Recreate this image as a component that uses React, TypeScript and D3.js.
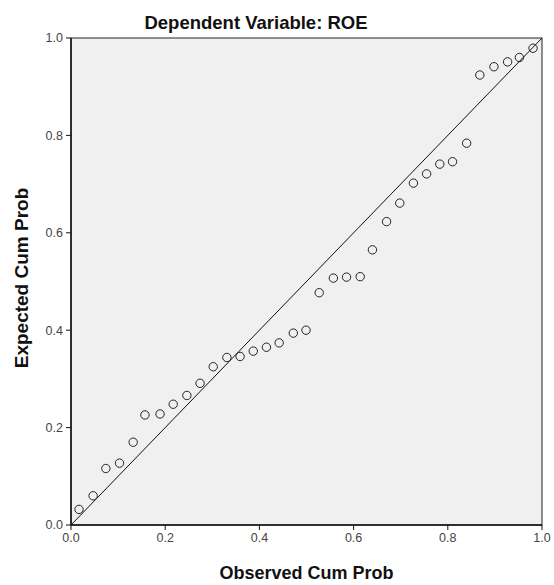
import React from "react";
import * as d3 from "d3";

const observed = [0.017, 0.047, 0.074, 0.103, 0.132, 0.157, 0.189, 0.217, 0.246, 0.274, 0.302, 0.331, 0.359, 0.387, 0.415, 0.442, 0.472, 0.499, 0.527, 0.557, 0.585, 0.614, 0.640, 0.670, 0.698, 0.727, 0.755, 0.783, 0.810, 0.840, 0.868, 0.898, 0.927, 0.952, 0.981];
const expected = [0.032, 0.060, 0.116, 0.127, 0.170, 0.226, 0.228, 0.248, 0.266, 0.291, 0.325, 0.344, 0.346, 0.357, 0.365, 0.374, 0.394, 0.400, 0.477, 0.507, 0.509, 0.510, 0.565, 0.623, 0.661, 0.702, 0.721, 0.741, 0.746, 0.784, 0.924, 0.941, 0.951, 0.960, 0.979];
const ticks = [0, 0.2, 0.4, 0.6, 0.8, 1.0];
const tickLabels = ["0.0", "0.2", "0.4", "0.6", "0.8", "1.0"];
const title = "Dependent Variable: ROE";
const xTitle = "Observed Cum Prob";
const yTitle = "Expected Cum Prob";

const W = 554, H = 585;
const L = 71, R = 542, T = 38, B = 525;

export default function App() {
  const x = d3.scaleLinear().domain([0, 1]).range([L, R]);
  const y = d3.scaleLinear().domain([0, 1]).range([B, T]);
  const font = "'Liberation Sans', Arial, sans-serif";
  return (
    <svg width={W} height={H} style={{ position: "absolute", left: 0, top: 0, background: "#fff" }}>
      <rect x={L} y={T} width={R - L} height={B - T} fill="#f0f0f0" stroke="#222" strokeWidth={1} />
      <line x1={x(0)} y1={y(0)} x2={x(1)} y2={y(1)} stroke="#111" strokeWidth={1} />
      {observed.map((v, i) => (
        <circle key={i} cx={x(v)} cy={y(expected[i])} r={4.2} fill="none" stroke="#222" strokeWidth={1} />
      ))}
      <line x1={L} y1={T} x2={L} y2={B} stroke="#111" strokeWidth={1.5} />
      <line x1={L} y1={B} x2={R} y2={B} stroke="#111" strokeWidth={1.5} />
      {ticks.map((t, i) => (
        <g key={"y" + i}>
          <line x1={L - 5} x2={L} y1={y(t)} y2={y(t)} stroke="#111" />
          <text x={L - 8} y={y(t)} dy="0.35em" textAnchor="end" fontSize={12.5} fill="#444" fontFamily={font}>{tickLabels[i]}</text>
        </g>
      ))}
      {ticks.map((t, i) => (
        <g key={"x" + i}>
          <line x1={x(t)} x2={x(t)} y1={B} y2={B + 5} stroke="#111" />
          <text x={x(t)} y={B + 13} dy="0.35em" textAnchor="middle" fontSize={12.5} fill="#444" fontFamily={font}>{tickLabels[i]}</text>
        </g>
      ))}
      <text x={256} y={23} dy="0.35em" textAnchor="middle" fontSize={18.5} fontWeight="bold" fill="#111" fontFamily={font}>{title}</text>
      <text x={(L + R) / 2} y={573} dy="0.35em" textAnchor="middle" fontSize={18} fontWeight="bold" fill="#111" fontFamily={font}>{xTitle}</text>
      <text transform={`translate(21,278) rotate(-90)`} dy="0.35em" textAnchor="middle" fontSize={19} fontWeight="bold" fill="#111" fontFamily={font}>{yTitle}</text>
    </svg>
  );
}
